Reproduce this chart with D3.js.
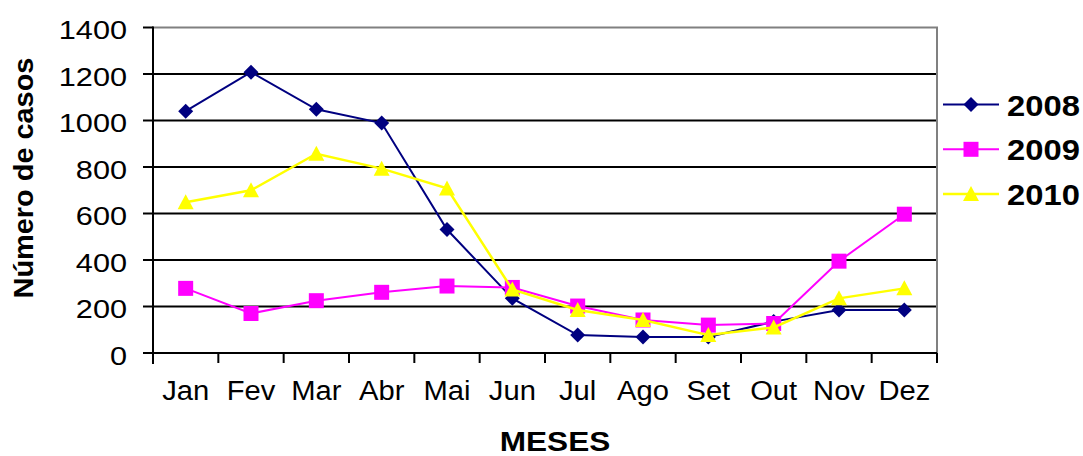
<!DOCTYPE html>
<html>
<head>
<meta charset="utf-8">
<script src="https://cdn.jsdelivr.net/npm/d3@7"></script>
<style>
  html, body { margin: 0; padding: 0; background: #fff; }
  svg { display: block; font-family: "Liberation Sans", Arial, sans-serif; }
</style>
</head>
<body>
<svg id="chart" width="1083" height="456"></svg>
<script>
const months = ["Jan","Fev","Mar","Abr","Mai","Jun","Jul","Ago","Set","Out","Nov","Dez"];
const s2008 = [1040, 1208, 1048, 989, 531, 235, 77, 69, 69, 135, 185, 185];
const s2009 = [278, 170, 225, 261, 288, 282, 202, 142, 120, 127, 395, 597];
const s2010 = [648, 700, 857, 793, 708, 273, 185, 142, 77, 110, 235, 278];
const yTicks = [0, 200, 400, 600, 800, 1000, 1200, 1400];
const seriesNames = ["2008", "2009", "2010"];
const seriesColors = ["#000080", "#FF00FF", "#FFFF00"];
const seriesSymbols = ["diamond", "square", "triangle"];
const xTitle = "MESES";
const yTitle = "Número de casos";

const series = seriesNames.map((n, i) => ({
  name: n, color: seriesColors[i], symbol: seriesSymbols[i],
  values: [s2008, s2009, s2010][i]
}));

const L = 153, R = 937, T = 27.5, B = 353;
const svg = d3.select("#chart");
const x = d3.scaleBand().domain(months).range([L, R]).padding(0);
const y = d3.scaleLinear().domain([0, 1400]).range([B, T]);
const cx = m => x(m) + x.bandwidth() / 2;

function symbolPath(type) {
  if (type === "diamond") return "M0,-7.5L7.5,0L0,7.5L-7.5,0Z";
  if (type === "square") return "M-7.5,-7.5H7.5V7.5H-7.5Z";
  return "M0,-8L8,7L-8,7Z";
}

// gridlines
svg.append("g").selectAll("line").data(yTicks.filter(v => v > 0 && v < 1400)).join("line")
  .attr("x1", L).attr("x2", R).attr("y1", d => y(d)).attr("y2", d => y(d))
  .attr("stroke", "#000").attr("stroke-width", 2);
// top & right border (gray)
svg.append("path").attr("d", `M${L},${y(1400)}H${R}V${B}`)
  .attr("fill", "none").attr("stroke", "#808080").attr("stroke-width", 2);

// y axis
const yAxis = svg.append("g");
yAxis.append("line").attr("x1", L).attr("x2", L).attr("y1", T - 1).attr("y2", B + 11)
  .attr("stroke", "#000").attr("stroke-width", 2);
yAxis.selectAll("line.tk").data(yTicks).join("line").attr("class", "tk")
  .attr("x1", L - 10).attr("x2", L).attr("y1", d => y(d)).attr("y2", d => y(d))
  .attr("stroke", "#000").attr("stroke-width", 2);
yAxis.selectAll("text").data(yTicks).join("text")
  .attr("text-anchor", "end")
  .attr("transform", d => `translate(127,${y(d) + 11.5}) scale(1.18,1)`)
  .attr("font-size", 26).attr("fill", "#000")
  .text(d => d);

// x axis
const xAxis = svg.append("g");
xAxis.append("line").attr("x1", L - 10).attr("x2", R).attr("y1", B).attr("y2", B)
  .attr("stroke", "#000").attr("stroke-width", 2);
xAxis.selectAll("line.tk").data(months.concat(["_end"])).join("line").attr("class", "tk")
  .attr("x1", d => d === "_end" ? R : x(d)).attr("x2", d => d === "_end" ? R : x(d))
  .attr("y1", B).attr("y2", B + 10)
  .attr("stroke", "#000").attr("stroke-width", 2);
xAxis.selectAll("text").data(months).join("text")
  .attr("text-anchor", "middle")
  .attr("transform", d => `translate(${cx(d)},400) scale(1.08,1)`)
  .attr("font-size", 27).attr("fill", "#000")
  .text(d => d);

// titles
svg.append("text").attr("text-anchor", "middle")
  .attr("transform", "translate(555,451) scale(1.17,1)")
  .attr("font-size", 27).attr("font-weight", "bold").text(xTitle);
svg.append("text").attr("text-anchor", "middle")
  .attr("transform", "translate(33,178) rotate(-90) scale(1.07,1)")
  .attr("font-size", 27).attr("font-weight", "bold").text(yTitle);

// series
const line = d3.line().x((d, i) => cx(months[i])).y(d => y(d));
series.forEach(s => {
  const g = svg.append("g");
  g.append("path").attr("d", line(s.values)).attr("fill", "none")
    .attr("stroke", s.color).attr("stroke-width", s.symbol === "triangle" ? 2.5 : 2);
  g.selectAll("path.m").data(s.values).join("path").attr("class", "m")
    .attr("d", symbolPath(s.symbol))
    .attr("transform", (d, i) => `translate(${cx(months[i])},${y(d)})`)
    .attr("fill", s.color);
});

// legend
const leg = svg.append("g");
series.forEach((s, i) => {
  const ly = 104.5 + i * 44.8;
  leg.append("line").attr("x1", 943).attr("x2", 999).attr("y1", ly).attr("y2", ly)
    .attr("stroke", s.color).attr("stroke-width", s.symbol === "triangle" ? 2.5 : 2);
  leg.append("path").attr("d", symbolPath(s.symbol))
    .attr("transform", `translate(971,${ly})`).attr("fill", s.color);
  leg.append("text").attr("transform", `translate(1007,${ly + 11}) scale(1.13,1)`)
    .attr("font-size", 29).attr("font-weight", "bold").text(s.name);
});
</script>
</body>
</html>
